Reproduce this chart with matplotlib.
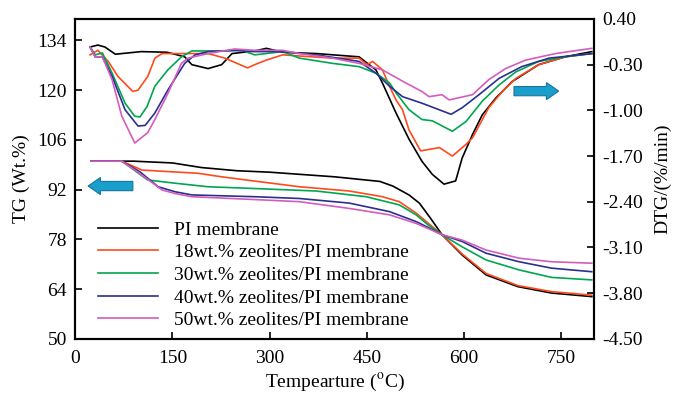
import matplotlib
matplotlib.use("Agg")
import matplotlib.pyplot as plt
import matplotlib.patches as mpatches
import numpy as np

plt.rcParams['font.family'] = ['Liberation Serif', 'DejaVu Serif']
plt.rcParams['mathtext.fontset'] = 'stix'
plt.rcParams['axes.unicode_minus'] = False

# TG data (left axis)
tg_black_t = [25, 90, 150, 195, 250, 300, 400, 470, 490, 515, 531, 548, 566, 597, 634, 683, 735, 797]
tg_black = [100, 100, 99.5, 98.2, 97.3, 96.9, 95.6, 94.3, 93.0, 90.5, 88.2, 84.0, 79.3, 73.6, 68.0, 64.7, 62.9, 61.9]

tg_orange_t = [25, 72, 103, 150, 189, 226, 277, 346, 423, 474, 500, 526, 545, 566, 597, 634, 683, 735, 797]
tg_orange = [100, 100, 97.5, 97.0, 96.6, 95.6, 94.4, 92.8, 91.6, 90.0, 88.6, 85.4, 82.5, 79.3, 73.9, 68.4, 65.0, 63.3, 62.3]

tg_green_t = [25, 72, 112, 154, 205, 277, 372, 449, 500, 526, 545, 566, 597, 634, 685, 735, 797]
tg_green = [100, 100, 94.7, 93.8, 92.8, 92.3, 91.6, 90.0, 87.7, 84.9, 82.0, 79.3, 75.9, 72.2, 69.4, 67.3, 66.6]

tg_blue_t = [25, 72, 100, 128, 154, 180, 277, 346, 423, 485, 526, 545, 566, 597, 634, 685, 735, 797]
tg_blue = [100, 100, 97.0, 92.8, 91.4, 90.5, 90.0, 89.5, 88.2, 85.8, 83.0, 81.3, 79.3, 77.4, 74.1, 71.7, 69.9, 68.9]

tg_pink_t = [25, 72, 100, 134, 154, 180, 277, 346, 423, 485, 526, 545, 566, 597, 634, 685, 735, 797]
tg_pink = [100, 100, 96.5, 91.9, 90.9, 90.0, 89.2, 88.6, 86.7, 84.9, 82.5, 81.0, 79.3, 77.8, 75.0, 72.7, 71.7, 71.3]

# DTG data (right axis)
dtg_black_t = [23, 35, 46, 62, 102, 142, 169, 180, 205, 226, 242, 277, 295, 320, 372, 438, 464, 474, 495,
               515, 535, 551, 569, 587, 597, 613, 628, 649, 674, 715, 756, 797]
dtg_black = [-0.03, 0.0, -0.03, -0.14, -0.10, -0.11, -0.18, -0.30, -0.36, -0.30, -0.13, -0.09, -0.05, -0.11,
             -0.13, -0.18, -0.38, -0.58, -1.04, -1.44, -1.78, -1.98, -2.13, -2.08, -1.73, -1.37, -1.07, -0.81,
             -0.56, -0.30, -0.18, -0.10]

dtg_orange_t = [23, 35, 51, 66, 89, 97, 112, 123, 134, 169, 205, 231, 266, 277, 295, 320, 397, 438, 450, 459,
                474, 485, 495, 505, 515, 533, 562, 582, 603, 613, 638, 659, 680, 715, 756, 797]
dtg_orange = [-0.15, -0.08, -0.25, -0.48, -0.71, -0.69, -0.48, -0.20, -0.13, -0.13, -0.13, -0.20, -0.35, -0.30,
              -0.23, -0.15, -0.20, -0.20, -0.30, -0.25, -0.38, -0.63, -0.84, -0.99, -1.30, -1.62, -1.57, -1.70,
              -1.52, -1.42, -0.96, -0.71, -0.51, -0.30, -0.18, -0.13]

dtg_green_t = [23, 31, 42, 57, 77, 92, 100, 111, 123, 143, 164, 180, 231, 257, 277, 320, 346, 397, 438, 464,
               485, 495, 515, 535, 551, 582, 603, 628, 654, 680, 715, 756, 797]
dtg_green = [-0.03, -0.15, -0.12, -0.43, -0.89, -1.09, -1.10, -0.94, -0.63, -0.38, -0.18, -0.09, -0.09, -0.08,
             -0.15, -0.10, -0.20, -0.28, -0.33, -0.43, -0.58, -0.73, -0.99, -1.14, -1.16, -1.32, -1.17, -0.86,
             -0.61, -0.41, -0.25, -0.18, -0.13]

dtg_blue_t = [23, 31, 42, 57, 77, 97, 108, 123, 143, 169, 185, 205, 246, 277, 320, 372, 438, 464, 485, 505,
              535, 580, 597, 623, 654, 689, 731, 797]
dtg_blue = [-0.03, -0.18, -0.18, -0.48, -0.99, -1.24, -1.23, -1.04, -0.69, -0.28, -0.15, -0.10, -0.08, -0.10,
            -0.10, -0.15, -0.25, -0.43, -0.63, -0.79, -0.89, -1.06, -0.96, -0.76, -0.51, -0.33, -0.20, -0.13]

dtg_pink_t = [23, 31, 42, 57, 72, 92, 112, 123, 143, 164, 174, 205, 246, 277, 320, 346, 397, 438, 474, 510,
              535, 546, 566, 577, 613, 638, 664, 695, 741, 797]
dtg_pink = [-0.03, -0.18, -0.18, -0.53, -1.09, -1.50, -1.34, -1.14, -0.74, -0.28, -0.20, -0.13, -0.06, -0.08,
            -0.08, -0.13, -0.20, -0.28, -0.38, -0.58, -0.71, -0.79, -0.76, -0.84, -0.76, -0.53, -0.36, -0.23,
            -0.13, -0.05]

labels = ["PI membrane", "18wt.% zeolites/PI membrane", "30wt.% zeolites/PI membrane",
          "40wt.% zeolites/PI membrane", "50wt.% zeolites/PI membrane"]
colors = ["#000000", "#ff4a1c", "#00a650", "#2b2f8f", "#d45cbd"]

tg_t = [tg_black_t, tg_orange_t, tg_green_t, tg_blue_t, tg_pink_t]
tg = [tg_black, tg_orange, tg_green, tg_blue, tg_pink]
dtg_t = [dtg_black_t, dtg_orange_t, dtg_green_t, dtg_blue_t, dtg_pink_t]
dtg = [dtg_black, dtg_orange, dtg_green, dtg_blue, dtg_pink]

fig = plt.figure(figsize=(6.77, 3.95), dpi=100)
ax = fig.add_axes([0.111, 0.142, 0.766, 0.810])
ax2 = ax.twinx()

for t, v, c, lab in zip(tg_t, tg, colors, labels):
    ax.plot(t, v, color=c, lw=1.2, label=lab)
for t, v, c in zip(dtg_t, dtg, colors):
    ax2.plot(t, v, color=c, lw=1.2)

ax.set_xlim(0, 800)
ax.set_ylim(50, 140)
ax.set_xticks([0, 150, 300, 450, 600, 750])
ax.set_yticks([50, 64, 78, 92, 106, 120, 134])
dtg_ticks = np.round(np.arange(-4.5, 0.41, 0.7), 2)
ax2.set_ylim(-4.5, 0.4)
ax2.set_yticks(dtg_ticks)
ax2.set_yticklabels(["%.2f" % v for v in dtg_ticks])

for a in (ax, ax2):
    a.tick_params(direction='in', length=5, width=1.2, labelsize=14)
    for s in a.spines.values():
        s.set_linewidth(1.5)
ax.tick_params(axis='x', pad=8)
ax.tick_params(axis='y', pad=6)
ax2.tick_params(axis='y', pad=6)

ax.set_xlabel("Tempearture ($^{\\mathrm{o}}$C)", fontsize=14, labelpad=3)
ax.set_ylabel("TG (Wt.%)", fontsize=14, labelpad=5)
ax2.set_ylabel("DTG/(%/min)", fontsize=14, labelpad=8)

# block arrows
arrow_kw = dict(length_includes_head=True, facecolor="#1a9ecb", edgecolor="#16759c", lw=0.8)
ax.add_patch(mpatches.FancyArrow(89, 93, -69, 0, width=2.6, head_width=4.8, head_length=19, **arrow_kw))
ax.add_patch(mpatches.FancyArrow(677, 119.7, 69, 0, width=2.6, head_width=4.8, head_length=19, **arrow_kw))

ax.legend(loc='lower left', bbox_to_anchor=(0.025, 0.0), frameon=False, fontsize=14,
          handlelength=3.1, handletextpad=0.8, labelspacing=0.26, borderaxespad=0.1)

fig.savefig("out.png", dpi=100)
